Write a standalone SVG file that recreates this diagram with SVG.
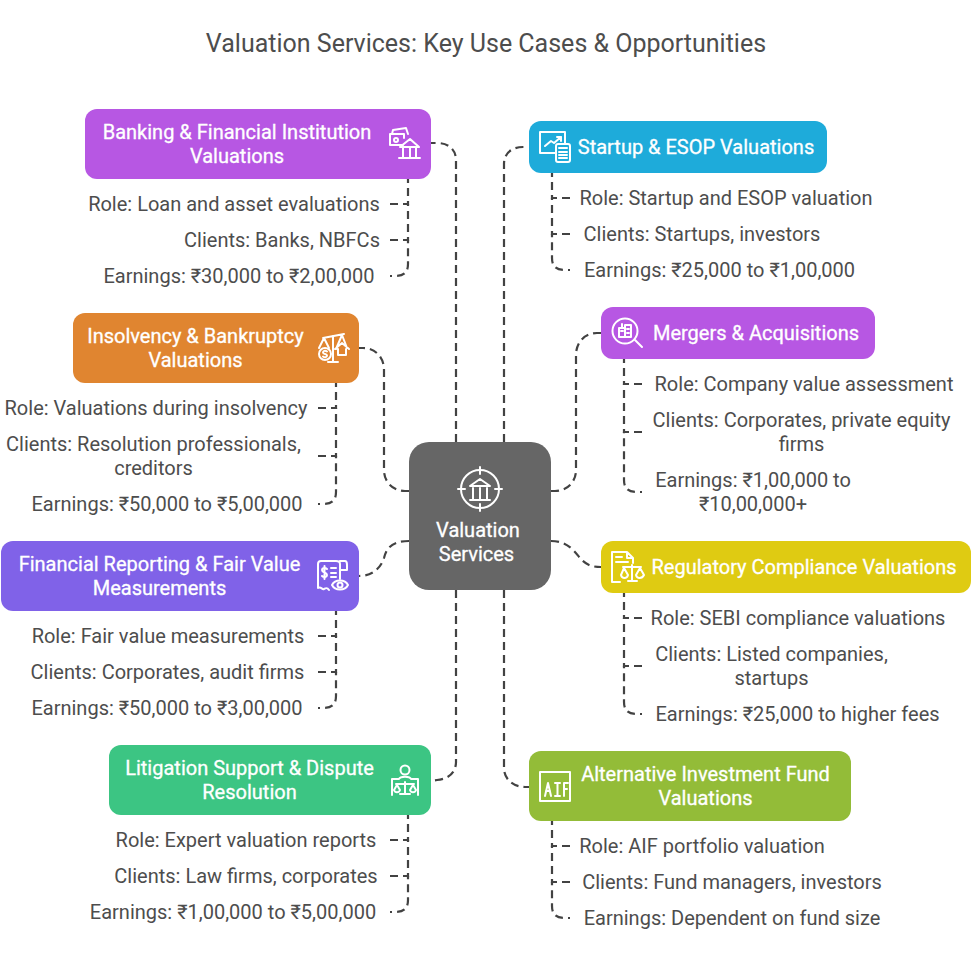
<svg xmlns="http://www.w3.org/2000/svg" width="971" height="955" viewBox="0 0 971 955">
<style>
text{font-family:Roboto,"Noto Sans",sans-serif;text-anchor:middle}
.t{font-size:25px;fill:#4d4d4d}
.n{font-size:20px;fill:#fff;stroke:#fff;stroke-width:.3}
.l{font-size:20px;fill:#4d4d4d}
.c path{fill:none;stroke:#424242;stroke-width:2.2;stroke-dasharray:8 5}
.c path.e{stroke-dashoffset:6}
.i *{fill:none;stroke:#fff;stroke-width:2;stroke-linecap:round;stroke-linejoin:round}
</style>
<rect width="971" height="955" fill="#fff"/>
<text class="t" x="486" y="52">Valuation Services: Key Use Cases &amp; Opportunities</text>
<g class="c" id="connectors">
<path d="M456 442V160C456 150 449 143 437 143H431"/>
<path d="M456 590V762C456 772 449 779 437 780L431 781"/>
<path d="M504 442V164C504 154 511 147 523 147H525"/>
<path d="M504 590V768C504 779 513 787 525 787H529"/>
<path d="M409 491H405C393 491 384 482 384 470V370C384 357 375 348 363 348H359"/>
<path d="M551 491H555C567 491 576 482 576 470V355C576 342 585 333 597 333H601"/>
<path d="M409 541C390 541 386 550 384 558C381 568 372 576 359 576"/>
<path d="M551 541C568 541 575 552 580 558C586 565 592 567 601 567"/>
<path d="M390 204H408V179"/><path d="M390 240H408V204"/><path class="e" d="M390 276H396C404 276 408 272 408 264V240"/>
<path d="M570 198H552V173"/><path d="M570 234H552V198"/><path class="e" d="M570 270H564C556 270 552 266 552 258V234"/>
<path d="M318 408H336V383"/><path d="M318 456H336V408"/><path class="e" d="M318 504H324C332 504 336 500 336 492V456"/>
<path d="M318 636H336V611"/><path d="M318 672H336V636"/><path class="e" d="M318 708H324C332 708 336 704 336 696V672"/>
<path d="M390 840H408V815"/><path d="M390 876H408V840"/><path class="e" d="M390 912H396C404 912 408 908 408 900V876"/>
<path d="M642 384H624V359"/><path d="M642 432H624V384"/><path class="e" d="M642 492H636C628 492 624 488 624 480V432"/>
<path d="M642 618H624V593"/><path d="M642 666H624V618"/><path class="e" d="M642 714H636C628 714 624 710 624 702V666"/>
<path d="M570 846H552V821"/><path d="M570 882H552V846"/><path class="e" d="M570 918H564C556 918 552 914 552 906V882"/>
</g>
<g id="center">
<rect x="409" y="442" width="142" height="148" rx="20" fill="#666"/>
<g class="i"><circle cx="480" cy="489" r="19"/><path d="M480 467V474M480 504V511M458 489H465M495 489H502M470 486H490L480 479ZM473 488V499M480 488V499M487 488V499M470 500H490"/></g>
<text class="n" x="478" y="537">Valuation</text><text class="n" x="476.500" y="561">Services</text>
</g>
<g id="banking">
<rect x="85" y="109" width="346" height="70" rx="12" fill="#b757e3"/>
<text class="n" x="237" y="139">Banking &amp; Financial Institution</text><text class="n" x="237" y="163">Valuations</text>
<g class="i"><path d="M403 145H390V134H404V138M392 134L393 130L406 128L408 134"/><circle cx="396" cy="140" r="2"/><path d="M400 147L410 139L419 147ZM403 148V157M410 148V157M416 148V157M399 158H420"/></g>
<text class="l" x="234" y="211">Role: Loan and asset evaluations</text>
<text class="l" x="282" y="247">Clients: Banks, NBFCs</text>
<text class="l" x="239" y="283">Earnings: ₹30,000 to ₹2,00,000</text>
</g>
<g id="startup">
<rect x="529" y="121" width="298" height="52" rx="12" fill="#1eabda"/>
<text class="n" x="696" y="154">Startup &amp; ESOP Valuations</text>
<g class="i"><path d="M555 153H540V132H565V144M545 146L551 141L554 143L561 137M557 137H561V141"/><rect x="556" y="144" width="14" height="18" rx="2"/><path d="M559 148H567M559 152H567M559 155H567M559 158H567"/></g>
<text class="l" x="726" y="205">Role: Startup and ESOP valuation</text>
<text class="l" x="702" y="241">Clients: Startups, investors</text>
<text class="l" x="719.500" y="277">Earnings: ₹25,000 to ₹1,00,000</text>
</g>
<g id="insolvency">
<rect x="73" y="313" width="286" height="70" rx="12" fill="#e08530"/>
<text class="n" x="195.500" y="343">Insolvency &amp; Bankruptcy</text><text class="n" x="195.500" y="367">Valuations</text>
<g class="i"><path d="M323 338L344 334M333 336V362M328 362H338M324 338L319 348M324 338L329 348M342 335L336 349M342 335L347 348M335 349L342 343L349 349M338 349V355H346V349"/><circle cx="325" cy="354" r="6"/><path d="M327 351.500C325 350 323 351 323 352.500C323 354.500 327 353.500 327 355.500C327 357 325 358 323 356.500" stroke-width="1.300"/></g>
<text class="l" x="156" y="415">Role: Valuations during insolvency</text>
<text class="l" x="153.500" y="451">Clients: Resolution professionals,</text><text class="l" x="153.500" y="475">creditors</text>
<text class="l" x="167" y="511">Earnings: ₹50,000 to ₹5,00,000</text>
</g>
<g id="mergers">
<rect x="601" y="307" width="274" height="52" rx="12" fill="#b757e3"/>
<text class="n" x="756" y="340">Mergers &amp; Acquisitions</text>
<g class="i"><circle cx="625" cy="331" r="12.500"/><path d="M635 340L642 347M619 337V328H625V337ZM625 337V325H631V337ZM619 337H631M622 324V328M627 329H629M627 333H629M621 331H623" stroke-width="1.600"/></g>
<text class="l" x="804" y="391">Role: Company value assessment</text>
<text class="l" x="801.500" y="427">Clients: Corporates, private equity</text><text class="l" x="801.500" y="451">firms</text>
<text class="l" x="753" y="487">Earnings: ₹1,00,000 to</text><text class="l" x="753" y="511">₹10,00,000+</text>
</g>
<g id="financial">
<rect x="1" y="541" width="358" height="70" rx="12" fill="#8062e8"/>
<text class="n" x="159.500" y="571">Financial Reporting &amp; Fair Value</text><text class="n" x="159.500" y="595">Measurements</text>
<g class="i"><path d="M340 579V564C340 561 338 561 336 561H321C319 561 318 562 318 564V588C321 586 322 590 324 589C326 588 327 587 329 590M340 561H345C347 561 347 563 347 565V570H341"/><path d="M332 585C335 579 345 579 348 585C345 591 335 591 332 585Z"/><circle cx="340" cy="585" r="2.500"/><path d="M331 568H336M331 573H336M331 577H336" stroke-width="1.600"/><path d="M327 569C325 567 322 568 322 570C322 573 327 572 327 575C327 577 324 578 322 576M324.500 566V579" stroke-width="1.400"/></g>
<text class="l" x="168" y="643">Role: Fair value measurements</text>
<text class="l" x="167.500" y="679">Clients: Corporates, audit firms</text>
<text class="l" x="167" y="715">Earnings: ₹50,000 to ₹3,00,000</text>
</g>
<g id="regulatory">
<rect x="601" y="541" width="370" height="52" rx="12" fill="#dfcb12"/>
<text class="n" x="804" y="574">Regulatory Compliance Valuations</text>
<g class="i"><path d="M620 582H612V552H627L633 558V563M627 552V558H633M616 557H622M616 562H628"/><path d="M623 567H641M632 565V581H628M632 581H637M624 568L621 575C622 579 627 579 628 575ZM640 568L636 575C637 579 642 579 644 575Z" stroke-width="1.700"/></g>
<text class="l" x="798" y="625">Role: SEBI compliance valuations</text>
<text class="l" x="771.500" y="661">Clients: Listed companies,</text><text class="l" x="771.500" y="685">startups</text>
<text class="l" x="797.500" y="721">Earnings: ₹25,000 to higher fees</text>
</g>
<g id="litigation">
<rect x="109" y="745" width="322" height="70" rx="12" fill="#3cc583"/>
<text class="n" x="249.500" y="775">Litigation Support &amp; Dispute</text><text class="n" x="249.500" y="799">Resolution</text>
<g class="i"><circle cx="405" cy="770" r="4.500"/><path d="M392 795V779H399C400 776 410 776 411 779H418V795M405 782V794M400 794H410M396 784H414M397 785L394 790C395 793 399 793 400 790ZM413 785L410 790C411 793 415 793 416 790Z" stroke-width="1.700"/></g>
<text class="l" x="246" y="847">Role: Expert valuation reports</text>
<text class="l" x="246" y="883">Clients: Law firms, corporates</text>
<text class="l" x="233" y="919">Earnings: ₹1,00,000 to ₹5,00,000</text>
</g>
<g id="aif">
<rect x="529" y="751" width="322" height="70" rx="12" fill="#93bc38"/>
<text class="n" x="705.500" y="781">Alternative Investment Fund</text><text class="n" x="705.500" y="805">Valuations</text>
<g class="i"><rect x="540" y="772" width="30" height="29"/><path d="M545 796L548 783L551 796M546 791H550M555 783H560M557.500 783V796M555 796H560M564 796V783H568M564 789H567" stroke-width="1.600"/></g>
<text class="l" x="702" y="853">Role: AIF portfolio valuation</text>
<text class="l" x="732" y="889">Clients: Fund managers, investors</text>
<text class="l" x="732" y="925">Earnings: Dependent on fund size</text>
</g>
</svg>
